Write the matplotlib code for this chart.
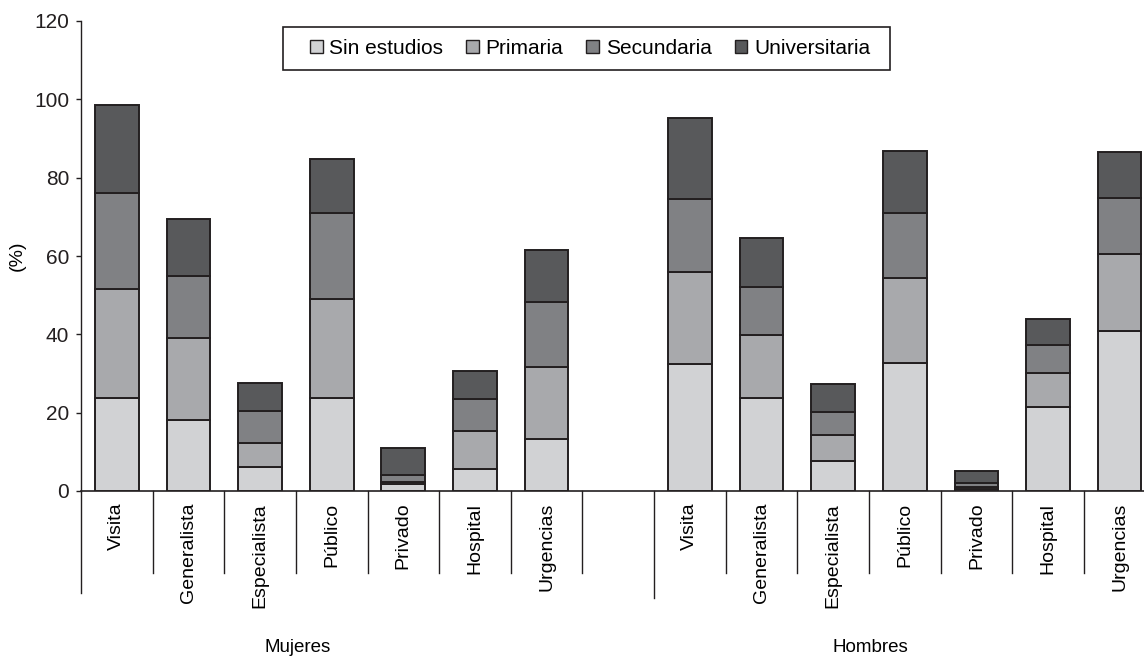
import matplotlib

matplotlib.use("Agg")
import matplotlib.pyplot as plt
from matplotlib.patches import Patch, Rectangle
from matplotlib.transforms import blended_transform_factory
import numpy as np

plt.rcParams["font.family"] = ["Liberation Sans", "DejaVu Sans"]

# Datos (%)
categorias = ["Visita", "Generalista", "Especialista", "Público",
              "Privado", "Hospital", "Urgencias"]
grupos = ["Mujeres", "Hombres"]
niveles = ["Sin estudios", "Primaria", "Secundaria", "Universitaria"]

mujeres_sin_estudios = [23.7, 18.1, 6.1, 23.7, 1.8, 5.7, 13.4]
mujeres_primaria = [28.0, 21.0, 6.1, 25.3, 0.4, 9.6, 18.3]
mujeres_secundaria = [24.4, 15.8, 8.2, 22.0, 1.8, 8.3, 16.6]
mujeres_universitaria = [22.5, 14.6, 7.3, 13.8, 6.9, 7.1, 13.3]

hombres_sin_estudios = [32.3, 23.8, 7.6, 32.6, 0.4, 21.5, 40.8]
hombres_primaria = [23.6, 16.0, 6.8, 21.8, 0.6, 8.7, 19.7]
hombres_secundaria = [18.7, 12.3, 5.8, 16.7, 1.0, 7.0, 14.4]
hombres_universitaria = [20.7, 12.6, 7.0, 15.7, 3.1, 6.6, 11.7]

colores = ["#d1d2d4", "#a8a9ac", "#808184", "#58595b"]
borde = "#231f20"

W, H = 1144, 670
fig = plt.figure(figsize=(W / 100, H / 100), dpi=100)
# eje: x de 81 a 1144 px, y de 491 (0) a 21 (120) px
ax = fig.add_axes([81 / W, 1 - 491 / H, 1 - 81 / W, (491 - 21) / H])

series = {
    "Mujeres": [mujeres_sin_estudios, mujeres_primaria,
                mujeres_secundaria, mujeres_universitaria],
    "Hombres": [hombres_sin_estudios, hombres_primaria,
                hombres_secundaria, hombres_universitaria],
}
n = len(categorias)
offsets = {"Mujeres": 0, "Hombres": n + 1}

for grupo in grupos:
    x = np.arange(n) + offsets[grupo]
    base = np.zeros(n)
    for vals, color in zip(series[grupo], colores):
        ax.bar(x, vals, bottom=base, width=0.61, color=color,
               edgecolor=borde, linewidth=1.4, zorder=3)
        base += np.asarray(vals)

ax.set_xlim(-0.5, 14.34)
ax.set_ylim(0, 120)
ax.set_yticks(range(0, 121, 20))
ax.tick_params(axis="y", labelsize=15, length=3.5, width=1,
               direction="out", pad=5, colors=borde)
ax.set_xticks([])
for side in ("top", "right"):
    ax.spines[side].set_visible(False)
ax.spines["left"].set_linewidth(1)
ax.spines["bottom"].set_linewidth(1.2)
ax.spines["left"].set_color(borde)
ax.spines["bottom"].set_color(borde)
ax.set_ylabel("(%)", fontsize=14)
ax.yaxis.set_label_coords(-0.052, 0.5)

trans = blended_transform_factory(ax.transData, ax.transAxes)

# Separadores bajo el eje
for i in range(2 * n + 1):
    xb = i - 0.5
    if xb == -0.5:
        y_end = -0.217
    elif xb == n + 0.5:
        y_end = -0.227
    else:
        y_end = -0.174
    ax.plot([xb, xb], [0, y_end], color=borde, linewidth=1,
            transform=trans, clip_on=False)

# Etiquetas de categoria
for grupo in grupos:
    for i, cat in enumerate(categorias):
        ax.text(i + offsets[grupo], -0.025, cat, rotation=90, ha="center",
                va="top", fontsize=14, transform=trans)

ax.text(2.53, -0.333, "Mujeres", ha="center", va="center",
        fontsize=13.5, transform=trans)
ax.text(10.52, -0.333, "Hombres", ha="center", va="center",
        fontsize=13.5, transform=trans)

# Leyenda con marco dibujado aparte
fig.patches.append(Rectangle((283 / W, 1 - 70 / H), (890 - 283) / W,
                             (70 - 27) / H, transform=fig.transFigure,
                             facecolor="white", edgecolor=borde,
                             linewidth=1.2, zorder=5))
handles = [Patch(facecolor=c, edgecolor=borde, linewidth=1) for c in colores]
leg = fig.legend(handles, niveles, loc="center", ncol=4,
                 bbox_to_anchor=(590 / W, 1 - 48.5 / H),
                 fontsize=15, frameon=False,
                 handlelength=0.6, handleheight=0.6, handletextpad=0.33,
                 columnspacing=1.1, borderpad=0.3)
leg.set_zorder(6)

fig.savefig("out.png", dpi=100)
plt.close(fig)
